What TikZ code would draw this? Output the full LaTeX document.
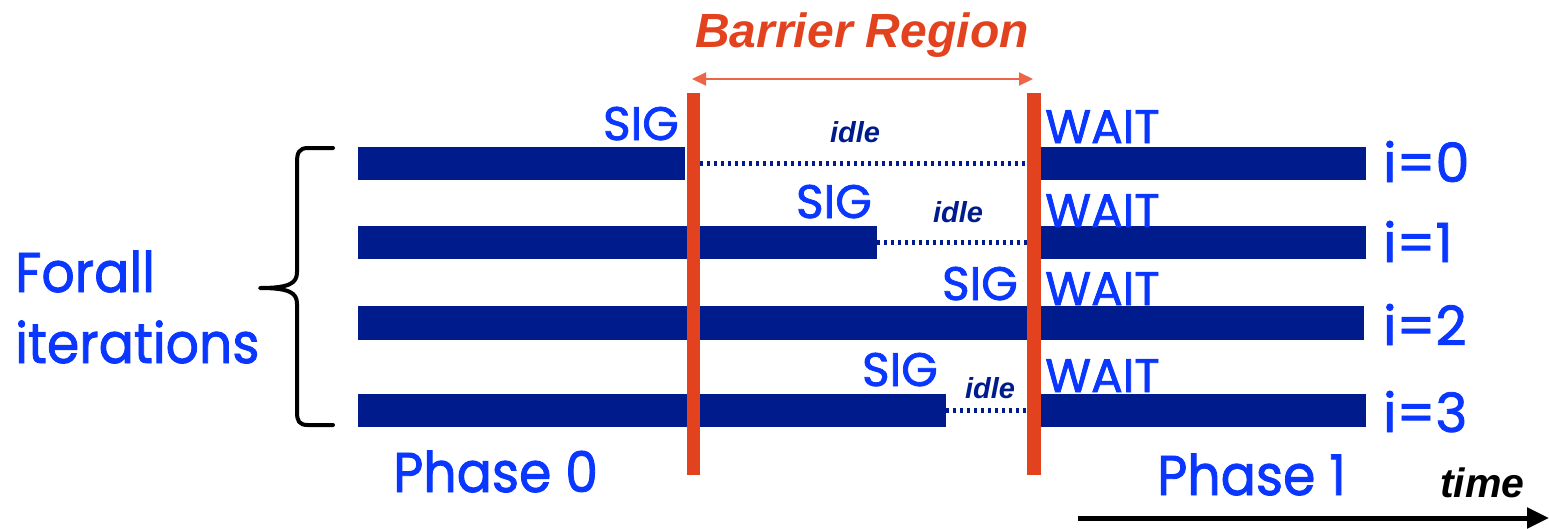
\documentclass[tikz,border=0pt]{standalone}
\usepackage{fontspec}
\setmainfont{Liberation Sans}
\newfontfamily\comic[FakeBold=1.6]{Poppins}
\usetikzlibrary{arrows.meta}
\definecolor{navy}{RGB}{0,28,140}
\definecolor{tblue}{RGB}{10,55,255}
\definecolor{bred}{RGB}{226,66,30}
\definecolor{lred}{RGB}{238,100,70}
\newcommand{\sqz}[1]{\scalebox{0.93}[1]{#1}}
\begin{document}
\begin{tikzpicture}[x=1pt,y=-1pt,
  bar/.style={fill=navy,draw=none},
  redbar/.style={fill=bred,draw=none},
  idleline/.style={navy,line width=5pt,dash pattern=on 3pt off 4pt},
  lbl/.style={inner sep=0pt,text=tblue,font=\comic\fontsize{47}{47}\selectfont},
  idx/.style={inner sep=0pt,text=tblue,font=\comic\fontsize{54}{54}\selectfont},
  big/.style={inner sep=0pt,text=tblue,font=\comic\fontsize{56}{56}\selectfont},
  idlelbl/.style={inner sep=0pt,text=navy,font=\bfseries\itshape\fontsize{29}{29}\selectfont}]
\useasboundingbox (0,0) rectangle (1549,528);
% bars
\fill[bar] (358,147) rectangle (685,180);
\fill[bar] (1041,147) rectangle (1366,180);
\fill[bar] (358,226) rectangle (877,259);
\fill[bar] (1041,226) rectangle (1366,259);
\fill[bar] (358,306) rectangle (1364,340);
\fill[bar] (358,394) rectangle (946,427);
\fill[bar] (1041,394) rectangle (1366,427);
% idle lines
\coordinate (i0s) at (700,163); \coordinate (i0e) at (1027,163);
\coordinate (i1s) at (877,242); \coordinate (i1e) at (1027,242);
\coordinate (i3s) at (946,410); \coordinate (i3e) at (1027,410);
\draw[idleline] (i0s) -- (i0e);
\draw[idleline] (i1s) -- (i1e);
\draw[idleline] (i3s) -- (i3e);
% red barrier lines
\fill[redbar] (687,93) rectangle (700,475);
\fill[redbar] (1027,93) rectangle (1041,475);
% barrier region arrow
\coordinate (ba) at (692,79); \coordinate (bb) at (1033,79);
\draw[lred,line width=2pt,{Triangle[length=14pt,width=13pt]}-{Triangle[length=14pt,width=13pt]}] (ba) -- (bb);
\node[inner sep=0pt,anchor=base,text=bred,font=\bfseries\itshape\fontsize{48}{48}\selectfont] (br) at (862,47) {Barrier Region};
% labels
\node[lbl,anchor=base east] (s0) at (679,140) {SIG};
\node[lbl,anchor=base east] (s1) at (872,218) {SIG};
\node[lbl,anchor=base east] (s2) at (1018,300) {SIG};
\node[lbl,anchor=base east] (s3) at (938,386) {SIG};
\node[lbl,anchor=base west] (w0) at (1045,143) {WAIT};
\node[lbl,anchor=base west] (w1) at (1045,227) {WAIT};
\node[lbl,anchor=base west] (w2) at (1045,305) {WAIT};
\node[lbl,anchor=base west] (w3) at (1045,392) {WAIT};
\node[idlelbl,anchor=base] (d0) at (855,142) {idle};
\node[idlelbl,anchor=base] (d1) at (958,222) {idle};
\node[idlelbl,anchor=base] (d3) at (990,398) {idle};
\node[idx,anchor=base west] (n0) at (1383,182) {i=0};
\node[idx,anchor=base west] (n1) at (1383,262) {i=1};
\node[idx,anchor=base west] (n2) at (1383,345) {i=2};
\node[idx,anchor=base west] (n3) at (1383,432) {i=3};
\node[big,anchor=base west] (fa) at (15,292) {\sqz{Forall}};
\node[big,anchor=base west] (it) at (15,363) {\sqz{iterations}};
\node[big,anchor=base west] (p0) at (393,492) {\sqz{Phase 0}};
\node[big,anchor=base west] (p1) at (1157,495) {\sqz{Phase 1}};
\node[inner sep=0pt,anchor=base west,font=\bfseries\itshape\fontsize{41}{41}\selectfont] (tm) at (1440,497) {time};
% brace
\draw[line width=4pt,line cap=round,line join=round] (333,148) -- (308,148) .. controls (299,148) and (297,153) .. (297,162) -- (297,272) .. controls (297,283) and (290,288) .. (260,288) .. controls (290,288) and (297,293) .. (297,304) -- (297,412) .. controls (297,421) and (299,425) .. (308,425) -- (333,425);
% time arrow
\coordinate (ta) at (1078,518); \coordinate (tb) at (1549,518);
\draw[line width=5pt,-{Triangle[length=22pt,width=20pt]}] (ta) -- (tb);
\end{tikzpicture}
\end{document}
